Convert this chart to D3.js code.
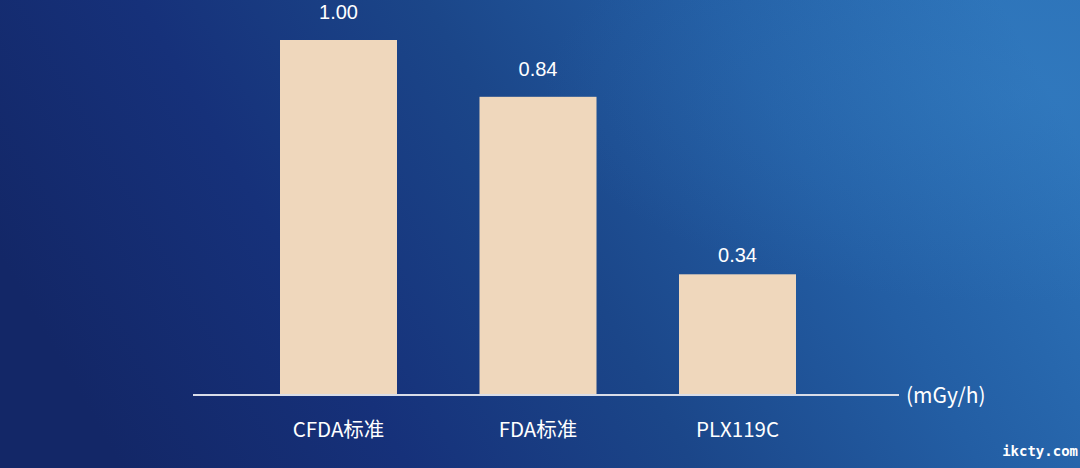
<!DOCTYPE html>
<html>
<head>
<meta charset="utf-8">
<script src="https://cdn.jsdelivr.net/npm/d3@7/dist/d3.min.js"></script>
<style>
  html, body { margin: 0; padding: 0; background: #15296a; }
  svg { display: block; }
</style>
</head>
<body>
<svg id="chart" width="1080" height="468"></svg>
<script>
const categories = ["CFDA标准", "FDA标准", "PLX119C"];
const values = [1.00, 0.84, 0.34];
const valueLabels = ["1.00", "0.84", "0.34"];
const unitLabel = "(mGy/h)";
const watermark = "ikcty.com";

const W = 1080, H = 468;
const svg = d3.select("#chart");
const defs = svg.append("defs");

const lg = defs.append("linearGradient").attr("id", "bg").attr("x1", "0").attr("y1", "0.55").attr("x2", "1").attr("y2", "0.3");
[["0%", "#132767"], ["25%", "#16317a"], ["50%", "#1b4689"], ["75%", "#235ea4"], ["100%", "#2c72b8"]]
  .forEach(([o, c]) => lg.append("stop").attr("offset", o).attr("stop-color", c));
svg.append("rect").attr("width", W).attr("height", H).attr("fill", "url(#bg)");

const rg = defs.append("radialGradient").attr("id", "glow").attr("cx", "0.95").attr("cy", "0.2").attr("r", "0.45");
rg.append("stop").attr("offset", "0%").attr("stop-color", "#3a86c9").attr("stop-opacity", 0.3);
rg.append("stop").attr("offset", "100%").attr("stop-color", "#3a86c9").attr("stop-opacity", 0);
svg.append("rect").attr("width", W).attr("height", H).attr("fill", "url(#glow)");

const baseY = 395;
const x = d3.scaleBand().domain(categories).range([238.75, 837.25]).paddingInner(0.4135).paddingOuter(0.4135 / 2);
const y = d3.scaleLinear().domain([0, 1]).range([baseY, 40]);

const font = "'Noto Sans CJK SC', 'Noto Sans', sans-serif";
const numFont = "'Liberation Sans', Arial, sans-serif";
// label gap above each bar (style, as set in the reference)
const labelGap = [21, 21, 12];

svg.append("g").selectAll("rect").data(values).join("rect")
  .attr("x", (d, i) => x(categories[i]))
  .attr("y", d => y(d))
  .attr("width", x.bandwidth())
  .attr("height", d => baseY - y(d))
  .attr("fill", "#efd7bc");

svg.append("g").selectAll("text").data(values).join("text")
  .attr("x", (d, i) => x(categories[i]) + x.bandwidth() / 2)
  .attr("y", (d, i) => y(d) - labelGap[i])
  .attr("text-anchor", "middle")
  .attr("fill", "#ffffff")
  .attr("font-family", numFont)
  .attr("font-size", 20)
  .text((d, i) => valueLabels[i]);

const axis = d3.axisBottom(x).tickSize(0).tickPadding(0);
const gAxis = svg.append("g").attr("transform", `translate(0,${baseY})`).call(axis);
gAxis.select(".domain").remove();
gAxis.selectAll("text")
  .attr("y", 42)
  .attr("dy", null)
  .attr("fill", "#ffffff")
  .attr("font-family", font)
  .attr("font-size", 20.5);

svg.append("line")
  .attr("x1", 193).attr("x2", 899)
  .attr("y1", baseY).attr("y2", baseY)
  .attr("stroke", "#d9dde8").attr("stroke-width", 2);

svg.append("text")
  .attr("x", 906).attr("y", 403)
  .attr("fill", "#ffffff")
  .attr("font-family", font)
  .attr("font-size", 21)
  .text(unitLabel);

svg.append("text")
  .attr("x", 1078).attr("y", 456)
  .attr("text-anchor", "end")
  .attr("fill", "#ffffff")
  .attr("font-family", "'DejaVu Sans Mono', monospace")
  .attr("font-weight", "bold")
  .attr("font-size", 14)
  .text(watermark);
</script>
</body>
</html>
